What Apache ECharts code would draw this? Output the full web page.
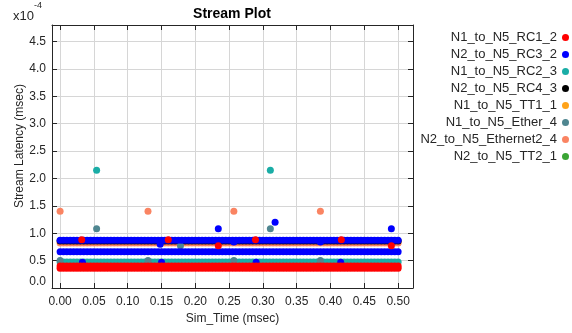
<!DOCTYPE html>
<html><head><meta charset="utf-8">
<script src="https://cdn.jsdelivr.net/npm/echarts@6/dist/echarts.min.js"></script>
<style>html,body{margin:0;padding:0;background:#fff}#c{width:572px;height:333px}</style>
</head><body><div id="c"></div>
<script>
// ---- data (latency in units of 1e-4 msec) ----
const seriesNames = ['N1_to_N5_RC1_2','N2_to_N5_RC3_2','N1_to_N5_RC2_3','N2_to_N5_RC4_3',
  'N1_to_N5_TT1_1','N1_to_N5_Ether_4','N2_to_N5_Ethernet2_4','N2_to_N5_TT2_1'];
const xTickValues = [0,0.05,0.10,0.15,0.20,0.25,0.30,0.35,0.40,0.45,0.50];
const yTickLabels = ['0.0','0.5','1.0','1.5','2.0','2.5','3.0','3.5','4.0','4.5'];

const simTime = [
  0.000,0.005,0.010,0.015,0.020,0.025,0.030,0.035,0.040,0.045,
  0.050,0.055,0.060,0.065,0.070,0.075,0.080,0.085,0.090,0.095,
  0.100,0.105,0.110,0.115,0.120,0.125,0.130,0.135,0.140,0.145,
  0.150,0.155,0.160,0.165,0.170,0.175,0.180,0.185,0.190,0.195,
  0.200,0.205,0.210,0.215,0.220,0.225,0.230,0.235,0.240,0.245,
  0.250,0.255,0.260,0.265,0.270,0.275,0.280,0.285,0.290,0.295,
  0.300,0.305,0.310,0.315,0.320,0.325,0.330,0.335,0.340,0.345,
  0.350,0.355,0.360,0.365,0.370,0.375,0.380,0.385,0.390,0.395,
  0.400,0.405,0.410,0.415,0.420,0.425,0.430,0.435,0.440,0.445,
  0.450,0.455,0.460,0.465,0.470,0.475,0.480,0.485,0.490,0.495,
  0.500];

// N1_to_N5_RC1_2 (red): dense band ~0.36-0.40
const rc1_2_low = [
  0.36,0.36,0.36,0.36,0.36,0.36,0.36,0.36,0.36,0.36,
  0.36,0.36,0.36,0.36,0.36,0.36,0.36,0.36,0.36,0.36,
  0.36,0.36,0.36,0.36,0.36,0.36,0.36,0.36,0.36,0.36,
  0.36,0.36,0.36,0.36,0.36,0.36,0.36,0.36,0.36,0.36,
  0.36,0.36,0.36,0.36,0.36,0.36,0.36,0.36,0.36,0.36,
  0.36,0.36,0.36,0.36,0.36,0.36,0.36,0.36,0.36,0.36,
  0.36,0.36,0.36,0.36,0.36,0.36,0.36,0.36,0.36,0.36,
  0.36,0.36,0.36,0.36,0.36,0.36,0.36,0.36,0.36,0.36,
  0.36,0.36,0.36,0.36,0.36,0.36,0.36,0.36,0.36,0.36,
  0.36,0.36,0.36,0.36,0.36,0.36,0.36,0.36,0.36,0.36,
  0.36];
const rc1_2_high = [
  0.40,0.40,0.40,0.40,0.40,0.40,0.40,0.40,0.40,0.40,
  0.40,0.40,0.40,0.40,0.40,0.40,0.40,0.40,0.40,0.40,
  0.40,0.40,0.40,0.40,0.40,0.40,0.40,0.40,0.40,0.40,
  0.40,0.40,0.40,0.40,0.40,0.40,0.40,0.40,0.40,0.40,
  0.40,0.40,0.40,0.40,0.40,0.40,0.40,0.40,0.40,0.40,
  0.40,0.40,0.40,0.40,0.40,0.40,0.40,0.40,0.40,0.40,
  0.40,0.40,0.40,0.40,0.40,0.40,0.40,0.40,0.40,0.40,
  0.40,0.40,0.40,0.40,0.40,0.40,0.40,0.40,0.40,0.40,
  0.40,0.40,0.40,0.40,0.40,0.40,0.40,0.40,0.40,0.40,
  0.40,0.40,0.40,0.40,0.40,0.40,0.40,0.40,0.40,0.40,
  0.40];
const rc1_2_extra = [[0.032,0.88],[0.160,0.88],[0.289,0.88],[0.416,0.88],[0.234,0.77],[0.490,0.77]];

// N2_to_N5_RC3_2 (blue): two bands ~0.87 and ~0.66
const rc3_2_upper = [
  0.87,0.87,0.87,0.87,0.87,0.87,0.87,0.87,0.87,0.87,
  0.87,0.87,0.87,0.87,0.87,0.87,0.87,0.87,0.87,0.87,
  0.87,0.87,0.87,0.87,0.87,0.87,0.87,0.87,0.87,0.87,
  0.87,0.87,0.87,0.87,0.87,0.87,0.87,0.87,0.87,0.87,
  0.87,0.87,0.87,0.87,0.87,0.87,0.87,0.87,0.87,0.87,
  0.87,0.87,0.87,0.87,0.87,0.87,0.87,0.87,0.87,0.87,
  0.87,0.87,0.87,0.87,0.87,0.87,0.87,0.87,0.87,0.87,
  0.87,0.87,0.87,0.87,0.87,0.87,0.87,0.87,0.87,0.87,
  0.87,0.87,0.87,0.87,0.87,0.87,0.87,0.87,0.87,0.87,
  0.87,0.87,0.87,0.87,0.87,0.87,0.87,0.87,0.87,0.87,
  0.87];
const rc3_2_lower = [
  0.66,0.66,0.66,0.66,0.66,0.66,0.66,0.66,0.66,0.66,
  0.66,0.66,0.66,0.66,0.66,0.66,0.66,0.66,0.66,0.66,
  0.66,0.66,0.66,0.66,0.66,0.66,0.66,0.66,0.66,0.66,
  0.66,0.66,0.66,0.66,0.66,0.66,0.66,0.66,0.66,0.66,
  0.66,0.66,0.66,0.66,0.66,0.66,0.66,0.66,0.66,0.66,
  0.66,0.66,0.66,0.66,0.66,0.66,0.66,0.66,0.66,0.66,
  0.66,0.66,0.66,0.66,0.66,0.66,0.66,0.66,0.66,0.66,
  0.66,0.66,0.66,0.66,0.66,0.66,0.66,0.66,0.66,0.66,
  0.66,0.66,0.66,0.66,0.66,0.66,0.66,0.66,0.66,0.66,
  0.66,0.66,0.66,0.66,0.66,0.66,0.66,0.66,0.66,0.66,
  0.66];
const rc3_2_extra = [[0.234,1.08],[0.318,1.20],[0.490,1.08],[0.148,0.80],[0.257,0.84],[0.385,0.84],
  [0.033,0.47],[0.150,0.47],[0.290,0.47],[0.415,0.47]];

// N1_to_N5_RC2_3 (teal)
const rc2_3_band = [
  0.475,0.475,0.475,0.475,0.475,0.475,0.475,0.475,0.475,0.475,
  0.475,0.475,0.475,0.475,0.475,0.475,0.475,0.475,0.475,0.475,
  0.475,0.475,0.475,0.475,0.475,0.475,0.475,0.475,0.475,0.475,
  0.475,0.475,0.475,0.475,0.475,0.475,0.475,0.475,0.475,0.475,
  0.475,0.475,0.475,0.475,0.475,0.475,0.475,0.475,0.475,0.475,
  0.475,0.475,0.475,0.475,0.475,0.475,0.475,0.475,0.475,0.475,
  0.475,0.475,0.475,0.475,0.475,0.475,0.475,0.475,0.475,0.475,
  0.475,0.475,0.475,0.475,0.475,0.475,0.475,0.475,0.475,0.475,
  0.475,0.475,0.475,0.475,0.475,0.475,0.475,0.475,0.475,0.475,
  0.475,0.475,0.475,0.475,0.475,0.475,0.475,0.475,0.475,0.475,
  0.475];
const rc2_3_extra = [[0.054,2.15],[0.311,2.15]];

// N2_to_N5_RC4_3 (black)
const rc4_3_band = [
  0.86,0.86,0.86,0.86,0.86,0.86,0.86,0.86,0.86,0.86,
  0.86,0.86,0.86,0.86,0.86,0.86,0.86,0.86,0.86,0.86,
  0.86,0.86,0.86,0.86,0.86,0.86,0.86,0.86,0.86,0.86,
  0.86,0.86,0.86,0.86,0.86,0.86,0.86,0.86,0.86,0.86,
  0.86,0.86,0.86,0.86,0.86,0.86,0.86,0.86,0.86,0.86,
  0.86,0.86,0.86,0.86,0.86,0.86,0.86,0.86,0.86,0.86,
  0.86,0.86,0.86,0.86,0.86,0.86,0.86,0.86,0.86,0.86,
  0.86,0.86,0.86,0.86,0.86,0.86,0.86,0.86,0.86,0.86,
  0.86,0.86,0.86,0.86,0.86,0.86,0.86,0.86,0.86,0.86,
  0.86,0.86,0.86,0.86,0.86,0.86,0.86,0.86,0.86,0.86,
  0.86];

// N1_to_N5_TT1_1 (orange) and N2_to_N5_TT2_1 (green): no visible points
const tt1_1 = [];
const tt2_1 = [];

// N1_to_N5_Ether_4 (slate teal)
const ether_4 = [[0.054,1.08],[0.311,1.08],[0.178,0.77],[0.000,0.50],[0.130,0.50],[0.257,0.50],[0.385,0.50]];

// N2_to_N5_Ethernet2_4 (salmon)
const ethernet2_4_band = [
  0.82,0.82,0.82,0.82,0.82,0.82,0.82,0.82,0.82,0.82,
  0.82,0.82,0.82,0.82,0.82,0.82,0.82,0.82,0.82,0.82,
  0.82,0.82,0.82,0.82,0.82,0.82,0.82,0.82,0.82,0.82,
  0.82,0.82,0.82,0.82,0.82,0.82,0.82,0.82,0.82,0.82,
  0.82,0.82,0.82,0.82,0.82,0.82,0.82,0.82,0.82,0.82,
  0.82,0.82,0.82,0.82,0.82,0.82,0.82,0.82,0.82,0.82,
  0.82,0.82,0.82,0.82,0.82,0.82,0.82,0.82,0.82,0.82,
  0.82,0.82,0.82,0.82,0.82,0.82,0.82,0.82,0.82,0.82,
  0.82,0.82,0.82,0.82,0.82,0.82,0.82,0.82,0.82,0.82,
  0.82,0.82,0.82,0.82,0.82,0.82,0.82,0.82,0.82,0.82,
  0.82];
const ethernet2_4_extra = [[0.000,1.40],[0.130,1.40],[0.257,1.40],[0.385,1.40]];

// ---- build ----
const zip = (ys) => ys.map((y, i) => [simTime[i], y]);
const colors = {
  'N1_to_N5_RC1_2':'#ff0000','N2_to_N5_RC3_2':'#0000ff','N1_to_N5_RC2_3':'#1aada6',
  'N2_to_N5_RC4_3':'#000000','N1_to_N5_TT1_1':'#ffa31a','N1_to_N5_Ether_4':'#4f8690',
  'N2_to_N5_Ethernet2_4':'#fa8462','N2_to_N5_TT2_1':'#3aa535'
};
const seriesData = {
  'N2_to_N5_Ethernet2_4': zip(ethernet2_4_band).concat(ethernet2_4_extra),
  'N1_to_N5_TT1_1': tt1_1,
  'N2_to_N5_TT2_1': tt2_1,
  'N2_to_N5_RC4_3': zip(rc4_3_band),
  'N1_to_N5_RC2_3': zip(rc2_3_band).concat(rc2_3_extra),
  'N1_to_N5_Ether_4': ether_4,
  'N2_to_N5_RC3_2': zip(rc3_2_upper).concat(zip(rc3_2_lower), rc3_2_extra),
  'N1_to_N5_RC1_2': zip(rc1_2_low).concat(zip(rc1_2_high), rc1_2_extra)
};
const drawOrder = ['N2_to_N5_Ethernet2_4','N1_to_N5_TT1_1','N2_to_N5_TT2_1','N2_to_N5_RC4_3',
  'N1_to_N5_RC2_3','N1_to_N5_Ether_4','N2_to_N5_RC3_2','N1_to_N5_RC1_2'];

const FONT = '"Liberation Sans", Arial, sans-serif';
const TXT = '#262626';
const chart = echarts.init(document.getElementById('c'), null, {renderer:'canvas'});
const axisLineStyle = {show:true, onZero:false, lineStyle:{color:'#262626', width:1}};
chart.setOption({
  animation:false,
  backgroundColor:'#fff',
  textStyle:{fontFamily:FONT},
  grid:{left:52, top:25, width:361, height:263, containLabel:false},
  legend:{
    orient:'vertical', right:3, top:31, padding:0, align:'right', icon:'circle',
    itemWidth:7, itemHeight:7, itemGap:4, selectedMode:false,
    textStyle:{fontSize:13, color:TXT, fontFamily:FONT},
    data: seriesNames.map(n => ({name:n, itemStyle:{color:colors[n]}}))
  },
  xAxis:[{
    type:'value', min:-0.012, max:0.522, position:'bottom',
    name:'Sim_Time (msec)', nameLocation:'middle', nameGap:24,
    nameTextStyle:{fontSize:12, color:TXT, fontFamily:FONT},
    axisLine:axisLineStyle,
    axisTick:{show:true, inside:true, length:5, customValues:xTickValues, lineStyle:{color:'#262626'}},
    axisLabel:{show:true, customValues:xTickValues, fontSize:12, color:TXT, margin:8,
      formatter:v => v.toFixed(2)},
    splitLine:{show:true, lineStyle:{color:'#d6d6d6', width:1}}
  },{
    type:'value', min:-0.012, max:0.522, position:'top',
    axisLine:axisLineStyle,
    axisTick:{show:true, inside:true, length:5, customValues:xTickValues, lineStyle:{color:'#262626'}},
    axisLabel:{show:false}, splitLine:{show:false}
  }],
  yAxis:[{
    type:'value', min:0, max:4.8, interval:0.5, position:'left',
    axisLine:axisLineStyle,
    axisTick:{show:true, inside:true, length:5, lineStyle:{color:'#262626'}},
    axisLabel:{show:true, fontSize:12, color:TXT, margin:6, showMaxLabel:false,
      verticalAlignMinLabel:'bottom',
      formatter:v => yTickLabels[Math.round(v/0.5)] || ''},
    splitLine:{show:true, lineStyle:{color:'#d6d6d6', width:1}}
  },{
    type:'value', min:0, max:4.8, interval:0.5, position:'right',
    axisLine:axisLineStyle,
    axisTick:{show:true, inside:true, length:5, lineStyle:{color:'#262626'}},
    axisLabel:{show:false}, splitLine:{show:false}
  }],
  graphic:[
    {type:'text', x:232, y:14.5, style:{text:'Stream Plot', font:'bold 14px '+FONT, fill:'#000',
      textAlign:'center', textVerticalAlign:'middle'}},
    {type:'text', x:13, y:16, style:{text:'x10', font:'13px '+FONT, fill:TXT,
      textAlign:'left', textVerticalAlign:'middle'}},
    {type:'text', x:34, y:5.5, style:{text:'-4', font:'9px '+FONT, fill:TXT,
      textAlign:'left', textVerticalAlign:'middle'}},
    {type:'text', x:20, y:146, rotation:Math.PI/2,
      style:{text:'Stream Latency (msec)', font:'12px '+FONT, fill:TXT,
      textAlign:'center', textVerticalAlign:'middle'}}
  ],
  series: drawOrder.map(n => ({
    name:n, type:'scatter', xAxisIndex:0, yAxisIndex:0,
    symbol:'circle', symbolSize:7,
    itemStyle:{color:colors[n], opacity:1},
    emphasis:{disabled:true},
    data: seriesData[n]
  }))
});
</script></body></html>
